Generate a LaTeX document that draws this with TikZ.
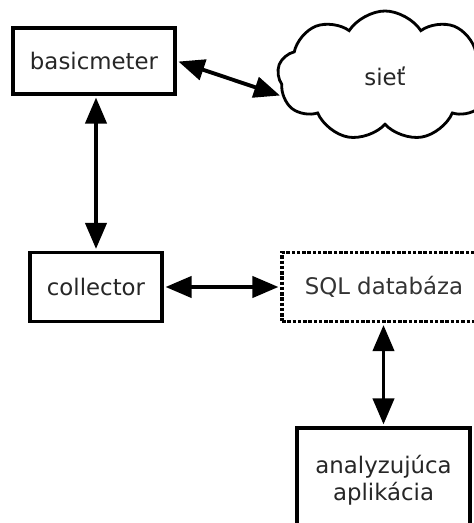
\documentclass[tikz,border=0pt]{standalone}
\usepackage{fontspec}
\setmainfont{DejaVu Sans}
\usepackage{tikz}
\usetikzlibrary{shapes.symbols,arrows.meta,positioning}

\begin{document}
\begin{tikzpicture}[
    box/.style={rectangle, draw=black, line width=2pt, text=black!85,
                font=\fontsize{13}{15.5}\selectfont, align=center},
    dbbox/.style={rectangle, draw=black, densely dotted, line width=2pt, text=black!80,
                  font=\fontsize{13}{15.5}\selectfont},
    link/.style={{Triangle[length=0.52cm,width=0.42cm]}-{Triangle[length=0.52cm,width=0.42cm]},
                 line width=2.2pt, shorten <=1pt, shorten >=1pt}
]
    \useasboundingbox (0,0) rectangle (9.48,10.46);

    % components
    \node[box, minimum width=3.24cm, minimum height=1.32cm] (basicmeter) at (1.88,9.24) {basicmeter};
    \node[cloud, draw=black, line width=1.6pt, cloud puffs=9, cloud puff arc=115, aspect=1.6,
          minimum width=4.3cm, minimum height=2.6cm, text=black!85,
          font=\fontsize{13}{15.5}\selectfont] (siet) at (7.7,8.94) {sieť};
    \node[box, minimum width=2.64cm, minimum height=1.38cm] (collector) at (1.92,4.72) {collector};
    \node[dbbox, minimum width=4.08cm, minimum height=1.38cm] (sql) at (7.68,4.72) {SQL databáza};
    \node[box, minimum width=3.46cm, minimum height=2.08cm] (app) at (7.67,0.86)
        {analyzujúca\\aplikácia};

    % connections
    \draw[link] (basicmeter.east) -- (siet.191);
    \draw[link] (basicmeter.south -| collector.north) -- (collector.north);
    \draw[link] (collector.east) -- (sql.west);
    \draw[link] (sql.south -| app.north) -- (app.north);
\end{tikzpicture}
\end{document}
